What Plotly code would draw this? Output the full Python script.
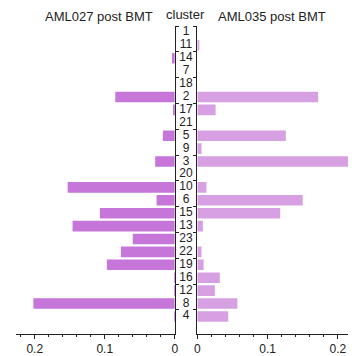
import plotly.graph_objects as go

clusters = ["1", "11", "14", "7", "18", "2", "17", "21", "5", "9", "3", "20",
            "10", "6", "15", "13", "23", "22", "19", "16", "12", "8", "4"]
aml027 = [0, 0, 0.004, 0, 0, 0.085, 0.002, 0, 0.017, 0, 0.028, 0,
          0.153, 0.026, 0.107, 0.146, 0.060, 0.077, 0.097, 0.001, 0.001, 0.202, 0.001]
aml035 = [0, 0.002, 0, 0, 0, 0.172, 0.026, 0, 0.126, 0.006, 0.23, 0,
          0.013, 0.150, 0.118, 0.008, 0, 0.006, 0.009, 0.032, 0.025, 0.057, 0.044]
titles = ["AML027 post BMT", "cluster", "AML035 post BMT"]

FONT = "Liberation Sans, Arial, sans-serif"
ink = "#222222"

fig = go.Figure()
fig.add_trace(go.Bar(y=clusters, x=aml027, orientation="h", xaxis="x", yaxis="y",
                     marker=dict(color="#C576D8", line=dict(width=0)), width=0.82))
fig.add_trace(go.Bar(y=clusters, x=aml035, orientation="h", xaxis="x2", yaxis="y2",
                     marker=dict(color="#D6A0E3", line=dict(width=0)), width=0.82))
fig.add_trace(go.Scatter(y=clusters, x=[0.5] * len(clusters), mode="text", text=clusters,
                         textposition="middle center", xaxis="x3", yaxis="y",
                         textfont=dict(family=FONT, size=12, color=ink), hoverinfo="skip"))

yrange = [23.36, -0.5]
common_x = dict(showgrid=False, zeroline=False, showline=True, linecolor=ink, linewidth=1,
                ticks="outside", ticklen=4, tickcolor=ink, dtick=0.1, tick0=0,
                tickfont=dict(family=FONT, size=12, color=ink),
                minor=dict(dtick=0.02, ticks="outside", ticklen=2, tickcolor=ink))
common_y = dict(type="category", categoryorder="array", categoryarray=clusters,
                range=yrange, showgrid=False, zeroline=False, showline=True,
                linecolor=ink, linewidth=1, ticks="outside", ticklen=3, tickcolor=ink,
                tickson="boundaries", showticklabels=False)

l = 16
W, H = 352, 356
pw = W - l
fig.update_layout(
    width=W, height=H, margin=dict(l=l, r=0, t=26, b=20),
    paper_bgcolor="white", plot_bgcolor="white", showlegend=False,
    xaxis=dict(domain=[0, (176.7 - l) / pw], range=[0.2268, 0], anchor="y", **common_x),
    xaxis2=dict(domain=[(199.5 - l) / pw, 1], range=[0, 0.2145], anchor="y2", **common_x),
    xaxis3=dict(domain=[(176.7 - l) / pw, (199.5 - l) / pw], range=[0, 1], visible=False,
                anchor="y", fixedrange=True),
    yaxis=dict(anchor="x", side="right", **common_y),
    yaxis2=dict(anchor="x2", side="left", matches="y", **common_y),
    font=dict(family=FONT, color=ink),
)

ph = 336 - 26
for t, xp, yp in zip(titles, [100, 187.7, 275], [16, 14, 16]):
    fig.add_annotation(text=t, xref="paper", yref="paper", x=(xp - l) / pw,
                       y=(336 - yp) / ph, xanchor="center", yanchor="middle",
                       showarrow=False, font=dict(family=FONT, size=13, color=ink))

fig.write_html("out.html")
